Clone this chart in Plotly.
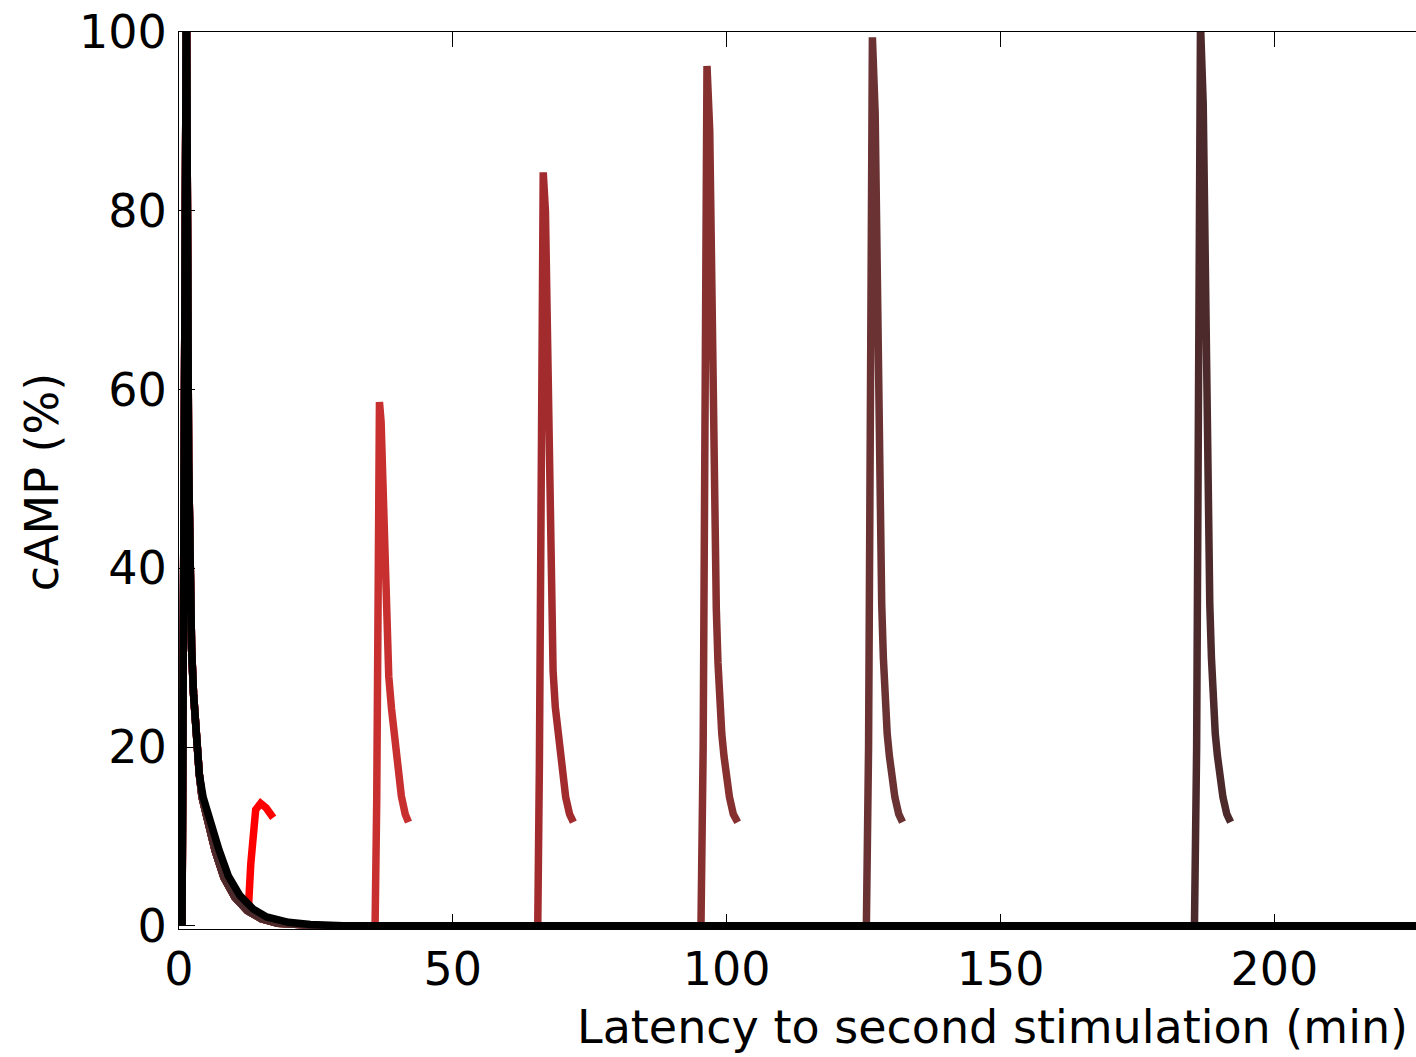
import plotly.graph_objects as go

# ---- data ----
# response to the first stimulation alone (black)
black_t = [0.55, 1.35, 1.75, 2.0, 2.3, 2.65, 3.0, 3.4, 3.7, 4.4, 5.3, 6.2, 7.3, 9.0, 11.1, 13.5, 16.0, 20.0, 24.0, 30.0, 226.0]
black_v = [0, 105, 52, 38, 31, 26, 22.5, 20, 17, 14.4, 12.5, 11.1, 8.5, 5.6, 3.4, 1.9, 1.0, 0.4, 0.15, 0, 0]

# first-stimulation part of the paired-stimulation traces
first_t = [0.55, 1.35, 1.75, 2.0, 2.3, 2.65, 3.0, 3.4, 3.7, 4.2, 4.9, 5.6, 6.6, 8.2, 10.2, 12.5, 15.0, 18.0, 22.0, 26.0]
first_v = [0, 105, 52, 38, 31, 26, 22.5, 20, 17, 14.4, 12.5, 11.0, 8.4, 5.4, 3.2, 1.7, 0.8, 0.3, 0.05, 0]

# second-stimulation responses, one per latency
lat12_t = [12.7, 13.1, 13.6, 14.0, 14.9, 15.9, 17.2]
lat12_v = [2.3, 6.9, 11.4, 13.0, 13.7, 13.2, 12.1]

lat37_t = [35.7, 35.8, 36.1, 36.4, 36.6, 36.9, 37.3, 37.8, 38.0, 38.3, 38.8, 39.3, 39.6, 39.9, 40.6, 41.3, 41.9]
lat37_v = [0, 0, 14, 42, 58.6, 56.4, 48.8, 39.6, 31.9, 27.9, 24.3, 21.5, 19.1, 16.7, 14.5, 12.5, 11.6]

lat67_t = [65.4, 65.5, 65.8, 66.2, 66.5, 66.9, 67.3, 67.7, 68.0, 68.3, 68.7, 69.2, 69.6, 70.0, 70.6, 71.3, 72.0]
lat67_v = [0, 0, 18, 55, 84.3, 80, 64, 44, 33, 28.5, 24.5, 21.5, 19.0, 16.7, 14.4, 12.5, 11.6]

lat97_t = [95.2, 95.3, 95.7, 96.1, 96.4, 96.9, 97.3, 97.6, 98.1, 98.4, 98.7, 99.1, 99.5, 99.9, 100.5, 101.2, 102.0]
lat97_v = [0, 0, 20, 62, 96.2, 89, 67, 46, 35.5, 29.5, 25, 21.5, 19.0, 16.7, 14.4, 12.5, 11.6]

lat127_t = [125.4, 125.5, 125.9, 126.3, 126.6, 127.1, 127.5, 127.8, 128.3, 128.6, 128.9, 129.3, 129.7, 130.1, 130.7, 131.4, 132.1]
lat127_v = [0, 0, 20, 64, 99.4, 91, 68, 47, 36, 30, 25, 21.5, 19.0, 16.7, 14.4, 12.5, 11.6]

lat187_t = [185.3, 185.4, 185.8, 186.2, 186.5, 187.0, 187.4, 187.7, 188.2, 188.5, 188.8, 189.2, 189.6, 190.0, 190.6, 191.3, 192.0]
lat187_v = [0, 0, 20, 65, 101, 92, 69, 48, 36, 30, 25, 21.5, 19.0, 16.7, 14.4, 12.5, 11.6]

second_sets = [(lat12_t, lat12_v), (lat37_t, lat37_v), (lat67_t, lat67_v),
               (lat97_t, lat97_v), (lat127_t, lat127_v), (lat187_t, lat187_v)]
trace_colors = ["#ff0000", "#c82f2f", "#a22b2e", "#86302f", "#6a3232", "#4c2a2b"]

x_ticks = [0, 50, 100, 150, 200]
y_ticks = [0, 20, 40, 60, 80, 100]

FONT = "DejaVu Sans"
FS = 46

fig = go.Figure()

for (st, sv), col in zip(second_sets, trace_colors):
    if st[0] < first_t[-1]:
        # second stimulation happens during first decay: cut the first part
        xs = [t for t in first_t if t < st[0]]
        ys = first_v[:len(xs)]
    else:
        xs = list(first_t)
        ys = list(first_v)
    fig.add_trace(go.Scatter(x=xs + st, y=ys + sv, mode="lines",
                             line=dict(color=col, width=7.5),
                             showlegend=False, hoverinfo="skip"))

fig.add_trace(go.Scatter(x=black_t, y=black_v, mode="lines",
                         line=dict(color="#000000", width=7.5),
                         showlegend=False, hoverinfo="skip"))

fig.update_layout(
    width=1416, height=1057,
    margin=dict(l=179, r=0, t=32, b=128),
    paper_bgcolor="white", plot_bgcolor="white",
    font=dict(family=FONT, size=FS, color="black"),
    showlegend=False,
)
fig.update_xaxes(
    range=[0, 225.85], tickvals=x_ticks, ticktext=[str(v) for v in x_ticks],
    ticks="inside", ticklen=15, tickwidth=1, tickcolor="black",
    showline=True, linecolor="black", linewidth=1, mirror="ticks",
    showgrid=False, zeroline=False,
    tickfont=dict(family=FONT, size=FS, color="black"),
    ticklabelstandoff=0,
)
fig.update_yaxes(
    range=[-0.35, 100], tickvals=y_ticks, ticktext=[str(v) for v in y_ticks],
    ticks="inside", ticklen=16, tickwidth=1, tickcolor="black",
    showline=True, linecolor="black", linewidth=1, mirror=False,
    showgrid=False, zeroline=False,
    tickfont=dict(family=FONT, size=FS, color="black"),
    ticklabelstandoff=2,
)

fig.add_annotation(text="Latency to second stimulation (min)", xref="paper", yref="paper",
                   x=1, y=-0.109, xanchor="right", yanchor="middle", xshift=-6,
                   showarrow=False, font=dict(family=FONT, size=FS, color="black"))
fig.add_annotation(text="cAMP (%)", xref="paper", yref="paper",
                   x=-0.1108, y=0.498, xanchor="center", yanchor="middle", textangle=-90,
                   showarrow=False, font=dict(family=FONT, size=FS, color="black"))

fig.write_html("out.html")
